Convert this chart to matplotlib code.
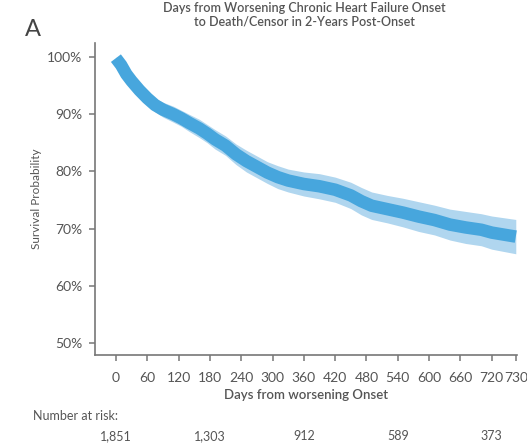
import numpy as np
import matplotlib
matplotlib.use("Agg")
import matplotlib.pyplot as plt
from matplotlib.transforms import blended_transform_factory

# Kaplan-Meier estimate: days from worsening onset vs survival (%)
days = [0, 10, 20, 30, 45, 60, 75, 90, 110, 125, 140, 160, 175, 190, 210,
        230, 250, 270, 290, 310, 330, 360, 390, 420, 450, 470, 490, 520,
        550, 580, 610, 640, 670, 700, 720, 730]
survival = [99.8, 98.6, 97.0, 95.8, 94.2, 92.8, 91.6, 90.8, 90.0, 89.3,
            88.5, 87.5, 86.6, 85.6, 84.5, 83.0, 81.8, 80.8, 79.8, 79.0,
            78.4, 77.8, 77.4, 76.8, 75.8, 74.8, 74.0, 73.4, 72.8, 72.1,
            71.5, 70.7, 70.2, 69.8, 69.3, 68.6]
ci_lower = [99.5, 98.0, 96.2, 94.8, 93.1, 91.7, 90.4, 89.5, 88.6, 87.9,
            87.0, 85.9, 85.0, 83.9, 82.8, 81.2, 79.9, 78.9, 77.9, 77.0,
            76.4, 75.7, 75.2, 74.6, 73.5, 72.4, 71.6, 71.0, 70.3, 69.5,
            68.9, 68.0, 67.4, 67.0, 66.4, 65.6]
ci_upper = [100.0, 99.2, 97.8, 96.8, 95.3, 93.9, 92.8, 92.1, 91.4, 90.7,
            90.0, 89.1, 88.2, 87.3, 86.2, 84.8, 83.7, 82.7, 81.7, 81.0,
            80.4, 79.9, 79.6, 79.0, 78.1, 77.2, 76.4, 75.8, 75.3, 74.7,
            74.1, 73.4, 73.0, 72.6, 72.2, 71.6]

xticks = [0, 60, 120, 180, 240, 300, 360, 420, 480, 540, 600, 660, 720, 730]
yticks = [50, 60, 70, 80, 90, 100]

risk_days = [0, 180, 360, 540, 720]
at_risk = ["1,851", "1,303", "912", "589", "373"]

title = "Days from Worsening Chronic Heart Failure Onset\nto Death/Censor in 2-Years Post-Onset"

FONT = ["Lato", "DejaVu Sans"]
plt.rcParams["font.family"] = FONT
TXT = "#555555"
AX = "#777777"
DARK = "#47a6dd"
LIGHT = "#b0d6ef"

fig = plt.figure(figsize=(5.27, 4.47), dpi=100)
ax = fig.add_axes([0.1803, 0.2058, 0.8007, 0.698])

# final stretch after day 720 is drawn wider so the 730 tick stays legible
STRETCH = 4.6


def fwd(x):
    x = np.asarray(x, dtype=float)
    return np.where(x <= 720, x, 720 + (x - 720) * STRETCH)


def inv(x):
    x = np.asarray(x, dtype=float)
    return np.where(x <= 720, x, 720 + (x - 720) / STRETCH)


ax.set_xscale("function", functions=(fwd, inv))

ax.fill_between(days, ci_lower, ci_upper, color=LIGHT, linewidth=0)
ax.plot(days, survival, color=DARK, linewidth=9,
        solid_joinstyle="round", solid_capstyle="butt")

ax.set_xlim(-40, 730.5)
ax.set_ylim(47.9, 102.45)
ax.set_xticks(xticks)
ax.set_xticklabels([str(t) for t in xticks])
ax.set_yticks(yticks)
ax.set_yticklabels([f"{t}%" for t in yticks])

for s in ["top", "right"]:
    ax.spines[s].set_visible(False)
for s in ["left", "bottom"]:
    ax.spines[s].set_color(AX)
    ax.spines[s].set_linewidth(1.2)
ax.tick_params(axis="both", colors=AX, labelcolor=TXT, labelsize=10,
               length=4, width=1.1, direction="out")
ax.tick_params(axis="x", pad=8)
ax.tick_params(axis="y", pad=5)

ax.set_xlabel("Days from worsening Onset", fontsize=9.5, color=TXT,
              fontweight="semibold", labelpad=4)
ax.set_ylabel("Survival Probability", fontsize=8.5, color=TXT, labelpad=4)

fig.text(0.577, 0.968, title, ha="center", va="center", fontsize=9,
         color=TXT, fontweight="semibold", linespacing=1.15)
fig.text(0.048, 0.935, "A", ha="left", va="center", fontsize=17,
         color="#444444")

fig.text(0.063, 0.07, "Number at risk:", ha="left", va="center",
         fontsize=9, color=TXT)
tr = blended_transform_factory(ax.transData, fig.transFigure)
for d, n in zip(risk_days, at_risk):
    ax.text(d, 0.025, n, transform=tr, ha="center", va="center",
            fontsize=9, color=TXT)

fig.savefig("out.png", dpi=100)
